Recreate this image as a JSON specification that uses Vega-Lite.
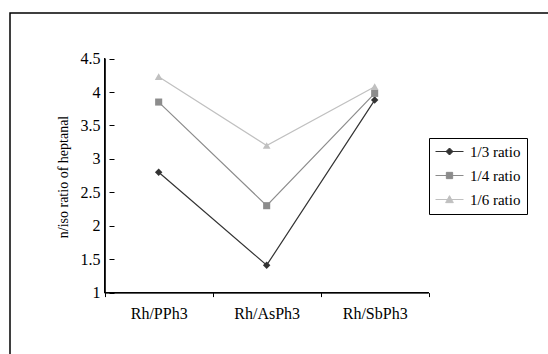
{
  "$schema": "https://vega.github.io/schema/vega-lite/v6.json",
  "width": 540,
  "height": 343,
  "autosize": "none",
  "padding": {"left": 10, "top": 13, "right": 0, "bottom": 0},
  "background": "white",
  "config": {
    "view": {"stroke": "black", "strokeWidth": 1.5},
    "font": "Liberation Serif",
    "legend": {
      "orient": "none", "legendX": 419, "legendY": 125, "title": null,
      "strokeColor": "black", "fillColor": "white", "padding": 6,
      "symbolSize": 196, "labelFontSize": 15, "labelColor": "black",
      "labelOffset": 20, "rowPadding": 8
    }
  },
  "data": {
    "values": [
      {"ligand": "Rh/PPh3", "ratio": "1/3 ratio", "value": 2.8},
      {"ligand": "Rh/AsPh3", "ratio": "1/3 ratio", "value": 1.41},
      {"ligand": "Rh/SbPh3", "ratio": "1/3 ratio", "value": 3.88},
      {"ligand": "Rh/PPh3", "ratio": "1/4 ratio", "value": 3.85},
      {"ligand": "Rh/AsPh3", "ratio": "1/4 ratio", "value": 2.3},
      {"ligand": "Rh/SbPh3", "ratio": "1/4 ratio", "value": 3.98},
      {"ligand": "Rh/PPh3", "ratio": "1/6 ratio", "value": 4.23},
      {"ligand": "Rh/AsPh3", "ratio": "1/6 ratio", "value": 3.2},
      {"ligand": "Rh/SbPh3", "ratio": "1/6 ratio", "value": 4.08}
    ]
  },
  "encoding": {
    "x": {
      "field": "ligand", "type": "nominal",
      "sort": ["Rh/PPh3", "Rh/AsPh3", "Rh/SbPh3"],
      "scale": {"type": "band", "paddingInner": 0, "paddingOuter": 1.176, "align": 0.4383},
      "axis": {
        "orient": "bottom", "offset": -63.4, "domain": false, "grid": false,
        "tickBand": "extent", "tickSize": 4, "tickColor": "black", "tickWidth": 1,
        "labelAngle": 0, "labelPadding": 9, "labelFontSize": 16, "labelColor": "black",
        "title": null
      }
    },
    "y": {
      "field": "value", "type": "quantitative",
      "scale": {"domain": [0.052, 5.182], "nice": false, "zero": false},
      "axis": {
        "orient": "left", "offset": -104, "domain": false, "grid": false,
        "values": [1, 1.5, 2, 2.5, 3, 3.5, 4, 4.5], "format": "~g",
        "tickSize": 5, "tickColor": "black", "tickWidth": 1,
        "labelFontSize": 16, "labelColor": "black", "labelPadding": 9,
        "title": "n/iso ratio of heptanal", "titleFontSize": 14, "titleFontWeight": "normal",
        "titleColor": "black", "titleX": -44, "titleY": 163.5
      }
    }
  },
  "layer": [
    {
      "mark": {"type": "rule", "color": "black", "strokeWidth": 1},
      "encoding": {
        "x": {"datum": "Rh/PPh3", "bandPosition": 0},
        "y": {"datum": 1},
        "y2": {"datum": 4.5}
      }
    },
    {
      "mark": {"type": "rule", "color": "black", "strokeWidth": 1},
      "encoding": {
        "x": {"datum": "Rh/PPh3", "bandPosition": 0},
        "x2": {"datum": "Rh/SbPh3", "bandPosition": 1},
        "y": {"datum": 1}
      }
    },
    {
      "mark": {"type": "line", "strokeWidth": 1.2},
      "encoding": {
        "color": {
          "field": "ratio", "type": "nominal",
          "scale": {"domain": ["1/3 ratio", "1/4 ratio", "1/6 ratio"], "range": ["#333333", "#8c8c8c", "#c0c0c0"]},
          "legend": {
            "encode": {
              "symbols": {
                "update": {
                  "shape": {"signal": "datum.value === '1/3 ratio' ? 'M-1,0H3M1,-0.5L1.5,0L1,0.5L0.5,0Z' : datum.value === '1/4 ratio' ? 'M-1,0H3M0.55,-0.45H1.45V0.45H0.55Z' : 'M-1,0H3M1,-0.55L1.55,0.45H0.45Z'"},
                  "fill": {"signal": "scale('color', datum.value)"},
                  "stroke": {"signal": "scale('color', datum.value)"},
                  "strokeWidth": {"value": 1},
                  "opacity": {"value": 1},
                  "fillOpacity": {"value": 1}
                }
              }
            }
          }
        }
      }
    },
    {
      "transform": [{"filter": "datum.ratio === '1/3 ratio'"}],
      "mark": {"type": "point", "shape": "diamond", "filled": true, "opacity": 1, "size": 55, "color": "#333333"},
      "encoding": {}
    },
    {
      "transform": [{"filter": "datum.ratio === '1/4 ratio'"}],
      "mark": {"type": "point", "shape": "square", "filled": true, "opacity": 1, "size": 50, "color": "#8c8c8c"},
      "encoding": {}
    },
    {
      "transform": [{"filter": "datum.ratio === '1/6 ratio'"}],
      "mark": {"type": "point", "shape": "triangle-up", "filled": true, "opacity": 1, "size": 60, "color": "#c0c0c0"},
      "encoding": {}
    }
  ]
}
